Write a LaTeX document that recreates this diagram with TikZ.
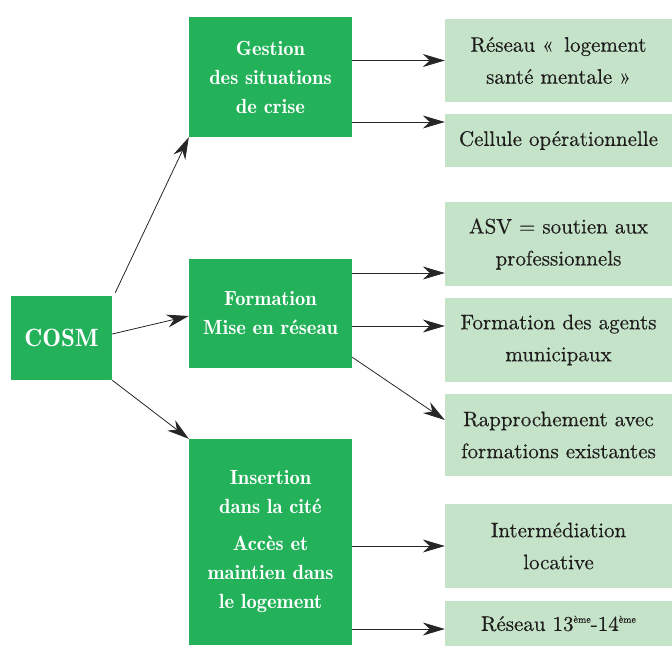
\documentclass[tikz,border=0pt]{standalone}
\usepackage{fontspec}
\newfontfamily\demi{lmromandemi10-regular.otf}
\newfontfamily\corps{lmroman10-regular.otf}[FakeBold=0.35]
\usetikzlibrary{arrows.meta, positioning}
\definecolor{vert}{RGB}{35,177,90}
\definecolor{vertclair}{RGB}{197,227,200}
\definecolor{encre}{RGB}{30,28,28}
\newcommand{\expo}[1]{\raisebox{0.9ex}{\fontsize{10}{10}\selectfont #1}}

\begin{document}
\begin{tikzpicture}[x=1pt, y=-1pt,
	boite/.style={fill=vert, text=white, inner sep=0pt, align=center, minimum width=163pt, font=\demi\fontsize{20.5}{29}\selectfont},
	action/.style={fill=vertclair, text=encre, inner sep=0pt, align=center, minimum width=227pt, font=\corps\fontsize{21}{32}\selectfont},
	fleche/.style={draw=black!85, line width=0.8pt, -{Stealth[length=22pt, width=13pt, inset=7pt]}}]
	\useasboundingbox (0,0) rectangle (672,648);
	% pôle central
	\node[boite, minimum width=101pt, minimum height=84pt, font=\demi\fontsize{25}{30}\selectfont] (cosm) at (61.5,338) {COSM};
	% trois axes
	\node[boite, minimum height=120pt] (gestion) at (270.5,77) {Gestion\\des situations\\de crise};
	\node[boite, minimum height=109pt] (formation) at (270.5,313.5) {Formation\\Mise en réseau};
	\node[boite, minimum height=206pt] (insertion) at (270.5,542) {Insertion\\dans la cité\\[8pt]Accès et\\maintien dans\\le logement};
	% actions
	\node[action, minimum height=83pt] (logement) at (558.5,60.5) {Réseau «\enspace logement\\santé mentale~»};
	\node[action, minimum height=53pt] (cellule) at (558.5,140.5) {Cellule opérationnelle};
	\node[action, minimum height=84pt] (asv) at (558.5,244) {ASV = soutien aux\\professionnels};
	\node[action, minimum height=84pt] (agents) at (558.5,340) {Formation des agents\\municipaux};
	\node[action, minimum height=82pt] (rapprochement) at (558.5,435) {Rapprochement avec\\formations existantes};
	\node[action, minimum height=84pt] (locative) at (558.5,546) {Intermédiation\\locative};
	\node[action, minimum height=45pt] (reseau) at (558.5,623.5) {Réseau 13\expo{ème}-14\expo{ème}};
	% points d'arrivée des flèches
	\coordinate (vers cellule) at ([yshift=18.5pt]cellule.west);
	\coordinate (vers asv) at ([yshift=-29pt]asv.west);
	\coordinate (vers agents) at ([yshift=14pt]agents.west);
	\coordinate (vers reseau) at ([yshift=-5.5pt]reseau.west);
	% flèches depuis le COSM
	\draw[fleche] ([shift={(3pt,3pt)}]cosm.north east) -- (gestion.south west);
	\draw[fleche] ([yshift=4pt]cosm.east) -- ([yshift=-2.5pt]formation.west);
	\draw[fleche] (cosm.south east) -- (insertion.north west);
	% flèches vers les actions
	\draw[fleche] (gestion.east |- logement.west) -- (logement.west);
	\draw[fleche] (gestion.east |- vers cellule) -- (vers cellule);
	\draw[fleche] (formation.east |- vers asv) -- (vers asv);
	\draw[fleche] (formation.east |- vers agents) -- (vers agents);
	\draw[fleche] ([yshift=11pt]formation.south east) -- ([yshift=15pt]rapprochement.west);
	\draw[fleche] (insertion.east |- locative.west) -- (locative.west);
	\draw[fleche] (insertion.east |- vers reseau) -- (vers reseau);
\end{tikzpicture}
\end{document}
